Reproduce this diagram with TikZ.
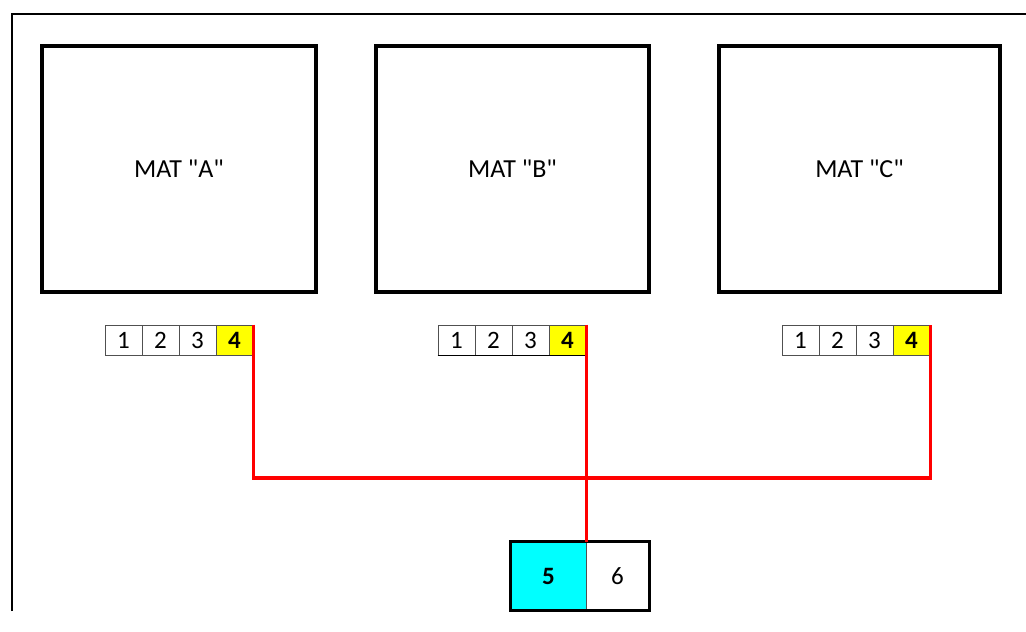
\documentclass[tikz,border=0pt]{standalone}
\usepackage{fontspec}
\setmainfont{Carlito}[Ligatures=TeXOff]
\definecolor{cellgray}{RGB}{80,80,80}
\definecolor{aqua}{RGB}{0,255,255}
\definecolor{yel}{RGB}{255,255,0}
\definecolor{redline}{RGB}{255,0,0}
\begin{document}
\begin{tikzpicture}[x=1pt,y=-1pt,
  matbox/.style={draw=black,line width=3.5pt,minimum width=#1,minimum height=246pt,inner sep=0pt,font=\fontsize{26}{30}\selectfont},
  cell/.style={draw=cellgray,line width=0.9pt,minimum width=37pt,minimum height=30pt,inner sep=0pt,font=\fontsize{25}{28}\selectfont},
  hot/.style={cell,fill=yel,font=\fontsize{25}{28}\selectfont\bfseries},
  link/.style={draw=redline,line width=3.8pt},
  frame/.style={draw=black,line width=1.6pt}]
\useasboundingbox (0,0) rectangle (1026,632);
\fill[white] (0,0) rectangle (1026,632);
% outer frame
\coordinate (fb) at (12,611);
\coordinate (fc) at (12,14);
\coordinate (fr) at (1026,14);
\draw[frame] (fb) -- (fc) -- (fr);
% mats
\node[matbox=274pt] (ma) at (179,169) {MAT "A"};
\node[matbox=273pt] (mb) at (512.5,169) {MAT "B"};
\node[matbox=281pt] (mc) at (859.5,169) {MAT "C"};
% cell rows
\node[cell] (a1) at (123.5,340) {1};
\node[cell] (a2) at (160.5,340) {2};
\node[cell] (a3) at (197.5,340) {3};
\node[hot]  (a4) at (234.5,340) {4};
\node[cell] (b1) at (456.5,340) {1};
\node[cell] (b2) at (493.5,340) {2};
\node[cell] (b3) at (530.5,340) {3};
\node[hot]  (b4) at (567.5,340) {4};
\draw[black,line width=1.8pt] (b1.south west) -- (b4.south east);
\node[cell] (c1) at (800.5,340) {1};
\node[cell] (c2) at (837.5,340) {2};
\node[cell] (c3) at (874.5,340) {3};
\node[hot]  (c4) at (911.5,340) {4};
% bottom pair
\node[draw=cellgray,line width=0.9pt,fill=aqua,minimum width=75pt,minimum height=68pt,inner sep=0pt,font=\fontsize{25}{28}\selectfont\bfseries] (p5) at (548.5,576) {5};
\node[draw=cellgray,line width=0.9pt,minimum width=63pt,minimum height=68pt,inner sep=0pt,font=\fontsize{25}{28}\selectfont] (p6) at (617.5,576) {6};
\draw[black,line width=3.5pt] (p5.north west) rectangle (p6.south east);
% red links
\coordinate (hub) at (586,478);
\draw[link] (a4.north east) |- (hub) -| (c4.north east);
\draw[link] (b4.north east) -- (b4.north east |- p5.north);
\end{tikzpicture}
\end{document}
